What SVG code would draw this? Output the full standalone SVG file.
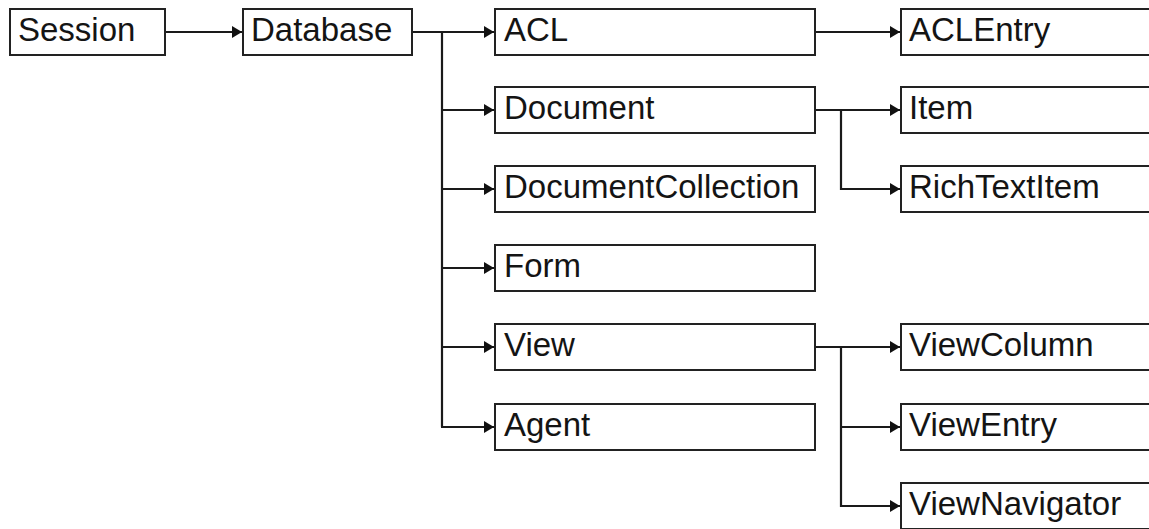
<svg xmlns="http://www.w3.org/2000/svg" width="1149" height="529" viewBox="0 0 1149 529">
<style>
.box{fill:#fff;stroke:#222;stroke-width:2}
.lbl{font-family:"Liberation Sans",Arial,sans-serif;font-size:33px;fill:#141414}
.ln{fill:none;stroke:#1a1a1a;stroke-width:2.2}
</style>
<defs>
<marker id="ah" markerUnits="userSpaceOnUse" markerWidth="10" markerHeight="12" refX="10" refY="6" orient="auto">
<path d="M0,0 L10,6 L0,12 z" fill="#111"/>
</marker>
</defs>
<rect width="1149" height="529" fill="#fff"/>
<g id="connectors">
<path class="ln" d="M165,32 H242" marker-end="url(#ah)"/>
<path class="ln" d="M412,32 H494" marker-end="url(#ah)"/>
<path class="ln" d="M442,32 V427"/>
<path class="ln" d="M442,110 H494" marker-end="url(#ah)"/>
<path class="ln" d="M442,189 H494" marker-end="url(#ah)"/>
<path class="ln" d="M442,268 H494" marker-end="url(#ah)"/>
<path class="ln" d="M442,347 H494" marker-end="url(#ah)"/>
<path class="ln" d="M441,427 H494" marker-end="url(#ah)"/>
<path class="ln" d="M815,32 H900" marker-end="url(#ah)"/>
<path class="ln" d="M815,110 H900" marker-end="url(#ah)"/>
<path class="ln" d="M841,110 V189 H900" marker-end="url(#ah)"/>
<path class="ln" d="M815,347 H900" marker-end="url(#ah)"/>
<path class="ln" d="M841,427 H900" marker-end="url(#ah)"/>
<path class="ln" d="M841,347 V506 H900" marker-end="url(#ah)"/>
</g>
<g id="session"><rect class="box" x="10" y="9" width="155" height="46"/><text class="lbl" x="18" y="41">Session</text></g>
<g id="database"><rect class="box" x="243" y="9" width="169" height="46"/><text class="lbl" x="251" y="41">Database</text></g>
<g id="acl"><rect class="box" x="495" y="9" width="320" height="46"/><text class="lbl" x="504" y="41">ACL</text></g>
<g id="document"><rect class="box" x="495" y="87" width="320" height="46"/><text class="lbl" x="504" y="119">Document</text></g>
<g id="documentcollection"><rect class="box" x="495" y="166" width="320" height="46"/><text class="lbl" x="504" y="198">DocumentCollection</text></g>
<g id="form"><rect class="box" x="495" y="245" width="320" height="46"/><text class="lbl" x="504" y="277">Form</text></g>
<g id="view"><rect class="box" x="495" y="324" width="320" height="46"/><text class="lbl" x="504" y="356">View</text></g>
<g id="agent"><rect class="box" x="495" y="404" width="320" height="46"/><text class="lbl" x="504" y="436">Agent</text></g>
<g id="aclentry"><rect class="box" x="901" y="9" width="280" height="46"/><text class="lbl" x="909" y="41">ACLEntry</text></g>
<g id="item"><rect class="box" x="901" y="87" width="280" height="46"/><text class="lbl" x="909" y="119">Item</text></g>
<g id="richtextitem"><rect class="box" x="901" y="166" width="280" height="46"/><text class="lbl" x="909" y="198">RichTextItem</text></g>
<g id="viewcolumn"><rect class="box" x="901" y="324" width="280" height="46"/><text class="lbl" x="909" y="356">ViewColumn</text></g>
<g id="viewentry"><rect class="box" x="901" y="404" width="280" height="46"/><text class="lbl" x="909" y="436">ViewEntry</text></g>
<g id="viewnavigator"><rect class="box" x="901" y="483" width="280" height="46"/><text class="lbl" x="909" y="515">ViewNavigator</text></g>
</svg>
